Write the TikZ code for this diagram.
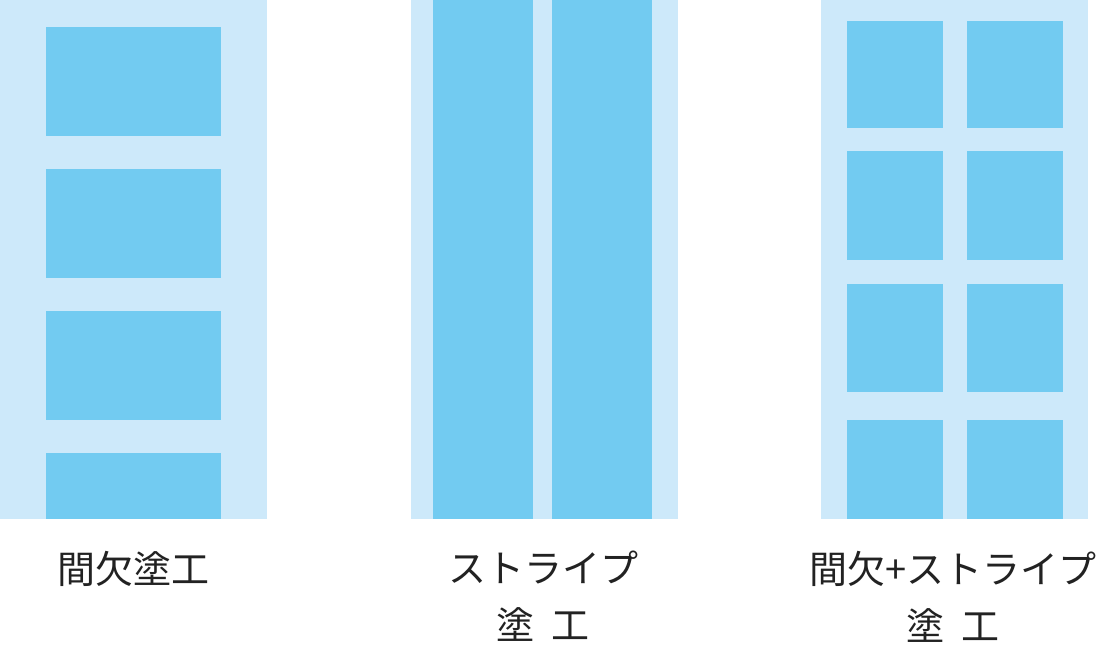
\documentclass[tikz,border=0pt]{standalone}
\usepackage{fontspec}
\setmainfont{Noto Sans CJK JP}
\usetikzlibrary{positioning,calc}
\definecolor{paleblue}{HTML}{CDE9FA}
\definecolor{coatblue}{HTML}{72CBF1}
\definecolor{labelgray}{HTML}{222222}
\begin{document}
\begin{tikzpicture}[x=1pt,y=-1pt,
  base/.style={fill=paleblue},
  coat/.style={fill=coatblue},
  caption/.style={text=labelgray,font=\fontsize{38}{57}\selectfont,align=center,inner sep=0pt,anchor=north}]
\useasboundingbox (0,0) rectangle (1097,652);
% intermittent
\fill[base] (0,0) rectangle (267,519);
\foreach \ya/\yb in {27/136,169/278,311/420,453/519}
  \fill[coat] (46,\ya) rectangle (221,\yb);
% stripe
\fill[base] (411,0) rectangle (678,519);
\fill[coat] (433,0) rectangle (533,519);
\fill[coat] (552,0) rectangle (652,519);
% intermittent + stripe
\fill[base] (821,0) rectangle (1088,519);
\foreach \ya/\yb in {21/128,151/260,284/392,420/519}{
  \fill[coat] (847,\ya) rectangle (943,\yb);
  \fill[coat] (967,\ya) rectangle (1063,\yb);
}
\node[caption] (capA) at (133,551) {間欠塗工};
\node[caption] (capB) at (543,551) {ストライプ\\塗\hspace{0.45em}工};
\node[caption] (capC) at (953,551) {間欠+ストライプ\\塗\hspace{0.45em}工};
\end{tikzpicture}
\end{document}
